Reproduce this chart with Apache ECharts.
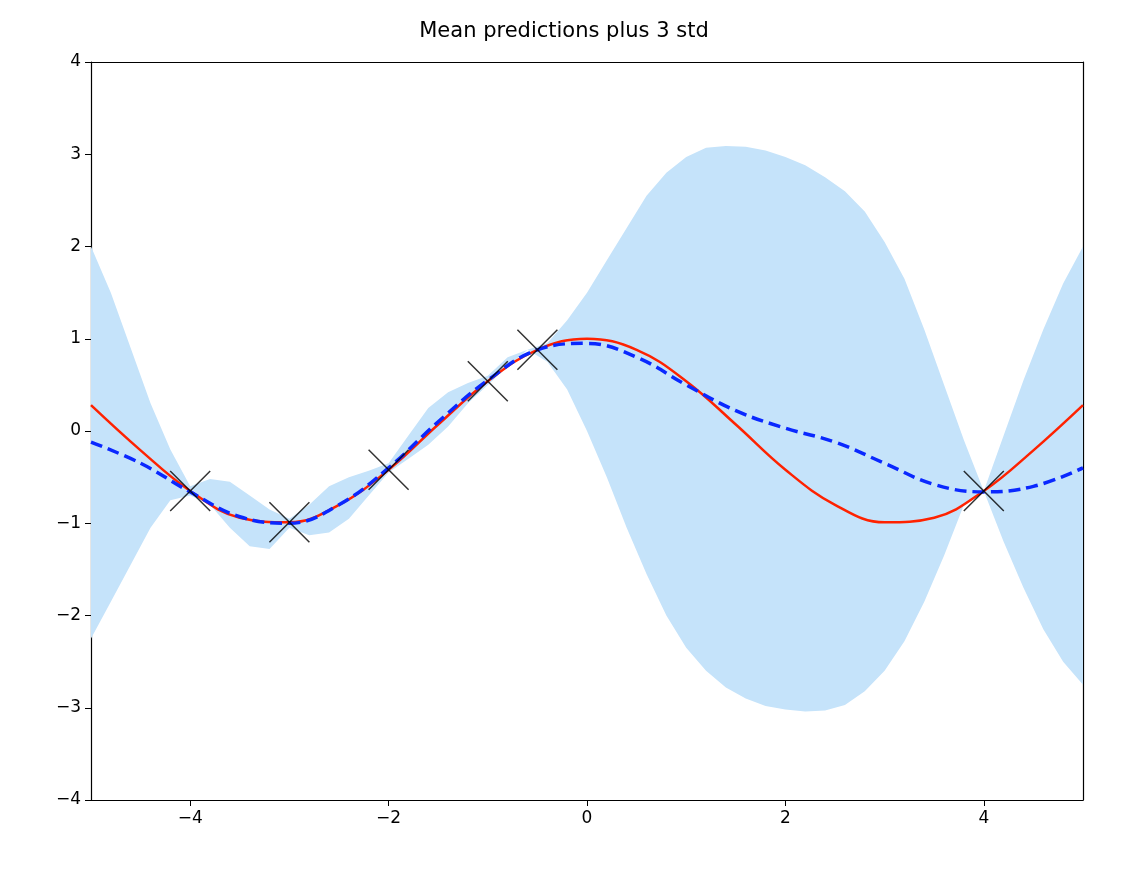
<!DOCTYPE html><html><head><meta charset="utf-8"><script src="https://cdn.jsdelivr.net/npm/echarts@6/dist/echarts.min.js"></script></head><body style="margin:0"><div id="c" style="width:1128px;height:872px"></div><script>
const bandX=[-5,-4.8,-4.6,-4.4,-4.2,-4,-3.8,-3.6,-3.4,-3.2,-3,-2.8,-2.6,-2.4,-2.2,-2,-1.8,-1.6,-1.4,-1.2,-1,-0.8,-0.6,-0.4,-0.2,0,0.2,0.4,0.6,0.8,1,1.2,1.4,1.6,1.8,2,2.2,2.4,2.6,2.8,3,3.2,3.4,3.6,3.8,4,4.2,4.4,4.6,4.8,5];
const upper=[2.0,1.5,0.9,0.3,-0.2,-0.6,-0.52,-0.55,-0.7,-0.85,-0.95,-0.8,-0.6,-0.5,-0.43,-0.35,-0.05,0.25,0.42,0.52,0.6,0.8,0.88,0.95,1.2,1.5,1.85,2.2,2.55,2.8,2.97,3.07,3.09,3.08,3.04,2.97,2.88,2.75,2.6,2.38,2.05,1.65,1.1,0.5,-0.1,-0.65,-0.05,0.55,1.1,1.6,2.0];
const lower=[-2.25,-1.85,-1.45,-1.05,-0.75,-0.7,-0.8,-1.05,-1.25,-1.28,-1.05,-1.13,-1.1,-0.95,-0.7,-0.45,-0.3,-0.15,0.05,0.3,0.5,0.7,0.88,0.75,0.45,0.0,-0.5,-1.05,-1.55,-2.0,-2.35,-2.6,-2.78,-2.9,-2.98,-3.02,-3.04,-3.03,-2.97,-2.82,-2.6,-2.28,-1.85,-1.35,-0.8,-0.65,-1.2,-1.7,-2.15,-2.5,-2.75];
const lineX=[-5,-4.5,-4,-3.5,-3,-2.5,-2,-1.5,-1,-0.5,0,0.5,1,1.5,2,2.5,3,3.5,4,4.5,5];
const trueY=[0.28,-0.21,-0.65,-0.94,-0.99,-0.80,-0.42,0.07,0.54,0.88,1,0.88,0.54,0.07,-0.42,-0.80,-0.99,-0.94,-0.65,-0.21,0.28];
const meanY=[-0.12,-0.35,-0.66,-0.93,-1.0,-0.8,-0.4,0.1,0.55,0.88,0.95,0.8,0.5,0.22,0.03,-0.12,-0.35,-0.58,-0.66,-0.6,-0.4];
const obsX=[-4,-3,-2,-1,-0.5,4];
const obsY=[-0.65,-0.99,-0.42,0.54,0.88,-0.65];
const ticksX=[-4,-2,0,2,4], ticksY=[-4,-3,-2,-1,0,1,2,3,4];
const fmt=v=>v<0?'\u2212'+(-v):''+v;
const zip=(a,b)=>a.map((v,i)=>[v,b[i]]);
const line={onZero:false,lineStyle:{color:'#000',width:1.2}};
const ax={axisLine:line,axisTick:{inside:false,length:6,lineStyle:{color:'#000'}},splitLine:{show:false},axisLabel:{color:'#000',fontSize:17,margin:10,fontFamily:'DejaVu Sans',formatter:fmt}};
const frame={axisLine:line,axisTick:{show:false},axisLabel:{show:false},splitLine:{show:false}};
const c=echarts.init(document.getElementById('c'));
c.setOption({animation:false,
title:{text:'Mean predictions plus 3 std',left:'center',top:16,textStyle:{fontSize:21,fontWeight:'normal',color:'#000',fontFamily:'DejaVu Sans'}},
grid:{left:91,right:45,top:62,bottom:72},
xAxis:[{type:'value',min:-5,max:5,...ax,axisLabel:{...ax.axisLabel,customValues:ticksX},axisTick:{...ax.axisTick,customValues:ticksX}},{type:'value',position:'top',min:-5,max:5,...frame}],
yAxis:[{type:'value',min:-4,max:4,interval:1,...ax},{type:'value',position:'right',min:-4,max:4,...frame}],
series:[
{type:'custom',data:[0],renderItem:(p,api)=>{const pts=bandX.map((x,i)=>api.coord([x,upper[i]])).concat(bandX.map((x,i)=>api.coord([x,lower[i]])).reverse());return{type:'polygon',shape:{points:pts},style:{fill:'#c5e3fa'}};},z:1},
{type:'line',data:zip(lineX,trueY),smooth:0.4,showSymbol:false,lineStyle:{color:'#ff2200',width:2.5},z:3},
{type:'line',data:zip(lineX,meanY),smooth:0.4,showSymbol:false,lineStyle:{color:'#0a28ff',width:3.5,type:[12,6]},z:4},
{type:'scatter',data:zip(obsX,obsY),symbol:'path://M0,0L10,10M10,0L0,10',symbolSize:40,itemStyle:{color:'none',borderColor:'#000',borderWidth:1.5},z:5}
]});
</script></body></html>
